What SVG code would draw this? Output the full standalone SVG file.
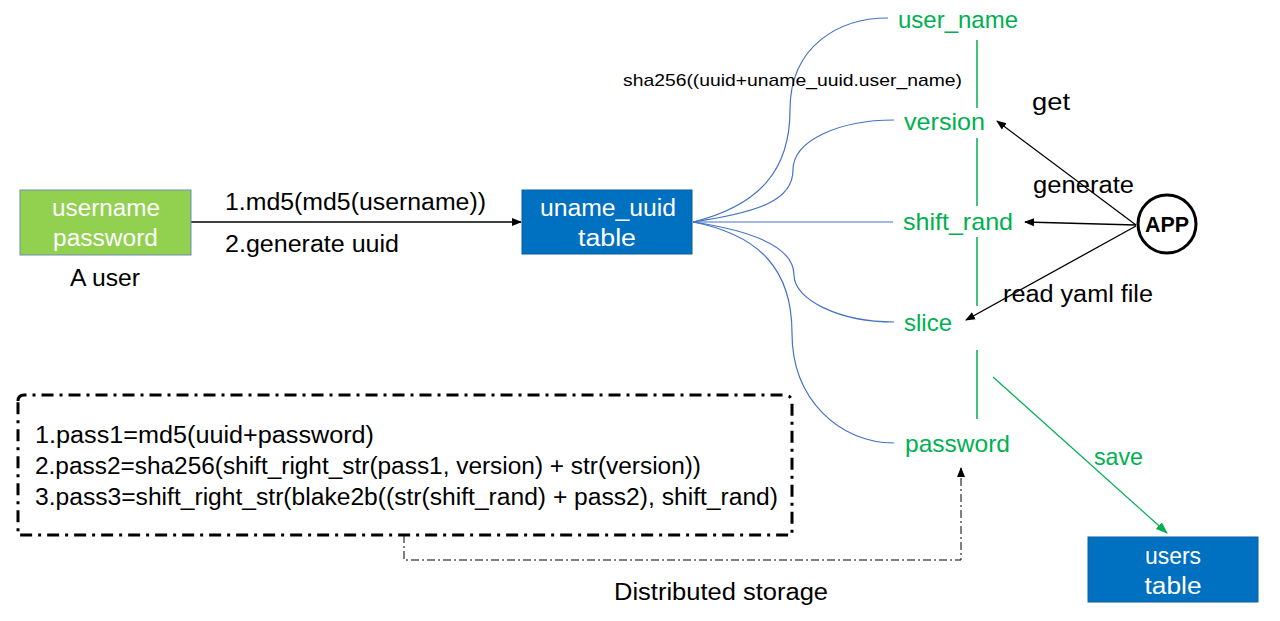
<svg xmlns="http://www.w3.org/2000/svg" width="1280" height="621" viewBox="0 0 1280 621">
<defs>
<style>
text{font-family:"Liberation Sans","Noto Sans",sans-serif;}
.w{fill:#fff;font-size:23px;text-anchor:middle;}
.b{fill:#000;font-size:23px;}
.g{fill:#00B050;font-size:24px;}
.blue{fill:none;stroke:#4472C4;stroke-width:1.2;}
.gl{stroke:#00B050;stroke-width:1.5;}
</style>
<marker id="ab" markerWidth="10" markerHeight="10" refX="9" refY="5" orient="auto" markerUnits="userSpaceOnUse"><path d="M0,1 L10,5 L0,9 Z" fill="#000"/></marker>
<marker id="ag" markerWidth="12" markerHeight="10" refX="11" refY="5" orient="auto" markerUnits="userSpaceOnUse"><path d="M0,0.5 L12,5 L0,9.5 Z" fill="#00B050"/></marker>
</defs>
<rect width="1280" height="621" fill="#fff"/>

<g id="connectors">
<line x1="191" y1="222" x2="521" y2="222" stroke="#000" stroke-width="1.3" marker-end="url(#ab)"/>
<path class="blue" d="M693,222 C760,205 790,170 790,110 C790,45 840,18 888,18"/>
<path class="blue" d="M693,222 C760,212 793,200 793,170 C793,140 840,120 894,120"/>
<path class="blue" d="M693,222 L893,222"/>
<path class="blue" d="M693,222 C760,232 794,250 794,275 C794,300 840,322 894,322"/>
<path class="blue" d="M693,222 C760,235 792,270 792,333 C792,400 840,443 894,443"/>
<line class="gl" x1="977" y1="40" x2="977" y2="108"/>
<line class="gl" x1="977" y1="138" x2="977" y2="206"/>
<line class="gl" x1="977" y1="237" x2="977" y2="306"/>
<line class="gl" x1="977" y1="350" x2="977" y2="419"/>
<line x1="1136" y1="225" x2="997" y2="121" stroke="#000" stroke-width="1.3" marker-end="url(#ab)"/>
<line x1="1136" y1="225" x2="1025" y2="222" stroke="#000" stroke-width="1.3" marker-end="url(#ab)"/>
<line x1="1136" y1="226" x2="966" y2="320" stroke="#000" stroke-width="1.3" marker-end="url(#ab)"/>
<line x1="993" y1="377" x2="1167" y2="533" stroke="#00B050" stroke-width="1.2" marker-end="url(#ag)"/>
<path d="M404,535 L404,560 L961,560 L961,468" fill="none" stroke="#000" stroke-width="1" stroke-dasharray="8,3,2,3" marker-end="url(#ab)"/>
</g>

<g id="user">
<rect x="20" y="190" width="171" height="65" fill="#92D050" stroke="#6d8fb3" stroke-width="1"/>
<text class="w" x="106" y="216" textLength="108" lengthAdjust="spacingAndGlyphs">username</text>
<text class="w" x="105.5" y="246" textLength="105" lengthAdjust="spacingAndGlyphs">password</text>
<text class="b" x="105" y="286" text-anchor="middle" textLength="70" lengthAdjust="spacingAndGlyphs">A user</text>
</g>

<g id="edge-labels">
<text class="b" x="225" y="210" textLength="261" lengthAdjust="spacingAndGlyphs">1.md5(md5(username))</text>
<text class="b" x="225" y="252" textLength="174" lengthAdjust="spacingAndGlyphs">2.generate uuid</text>
<text x="623" y="86" font-size="17" fill="#000" textLength="339" lengthAdjust="spacingAndGlyphs">sha256((uuid+uname_uuid.user_name)</text>
<text class="b" x="1032" y="110" textLength="38" lengthAdjust="spacingAndGlyphs">get</text>
<text class="b" x="1033" y="193" textLength="101" lengthAdjust="spacingAndGlyphs">generate</text>
<text class="b" x="1003" y="302" textLength="150" lengthAdjust="spacingAndGlyphs">read yaml file</text>
<text class="g" x="1094" y="465" textLength="49" lengthAdjust="spacingAndGlyphs">save</text>
<text class="b" x="614" y="600" textLength="214" lengthAdjust="spacingAndGlyphs">Distributed storage</text>
</g>

<g id="uname_uuid">
<rect x="522" y="190" width="170" height="64" fill="#0070C0" stroke="#0a5fa0" stroke-width="1"/>
<text class="w" x="608" y="216" textLength="136" lengthAdjust="spacingAndGlyphs">uname_uuid</text>
<text class="w" x="607" y="246" textLength="58" lengthAdjust="spacingAndGlyphs">table</text>
</g>

<g id="fields">
<text class="g" x="898" y="28" textLength="120" lengthAdjust="spacingAndGlyphs">user_name</text>
<text class="g" x="904" y="130" textLength="81" lengthAdjust="spacingAndGlyphs">version</text>
<text class="g" x="903" y="230" textLength="110" lengthAdjust="spacingAndGlyphs">shift_rand</text>
<text class="g" x="904" y="331" textLength="48" lengthAdjust="spacingAndGlyphs">slice</text>
<text class="g" x="905" y="452" textLength="105" lengthAdjust="spacingAndGlyphs">password</text>
</g>

<g id="app">
<circle cx="1167" cy="224" r="29" fill="#fff" stroke="#000" stroke-width="3"/>
<text x="1167" y="232" font-size="22" font-weight="bold" text-anchor="middle" fill="#000" textLength="44" lengthAdjust="spacingAndGlyphs">APP</text>
</g>

<g id="users_table">
<rect x="1088" y="537" width="170" height="65" fill="#0070C0" stroke="#0a5fa0" stroke-width="1"/>
<text class="w" x="1173" y="564" textLength="56" lengthAdjust="spacingAndGlyphs">users</text>
<text class="w" x="1173" y="594" textLength="57" lengthAdjust="spacingAndGlyphs">table</text>
</g>

<g id="formula">
<path d="M18,401 Q18,395 24,395 L784,395 Q792,395 792,403 L792,535 L18,535 Z" fill="none" stroke="#000" stroke-width="3" stroke-dasharray="12,6,3,6"/>
<text class="b" x="35" y="443" font-size="22" textLength="339" lengthAdjust="spacingAndGlyphs">1.pass1=md5(uuid+password)</text>
<text class="b" x="35" y="474" font-size="22" textLength="666" lengthAdjust="spacingAndGlyphs">2.pass2=sha256(shift_right_str(pass1, version) + str(version))</text>
<text class="b" x="35" y="505" font-size="22" textLength="743" lengthAdjust="spacingAndGlyphs">3.pass3=shift_right_str(blake2b((str(shift_rand) + pass2), shift_rand)</text>
</g>
</svg>
